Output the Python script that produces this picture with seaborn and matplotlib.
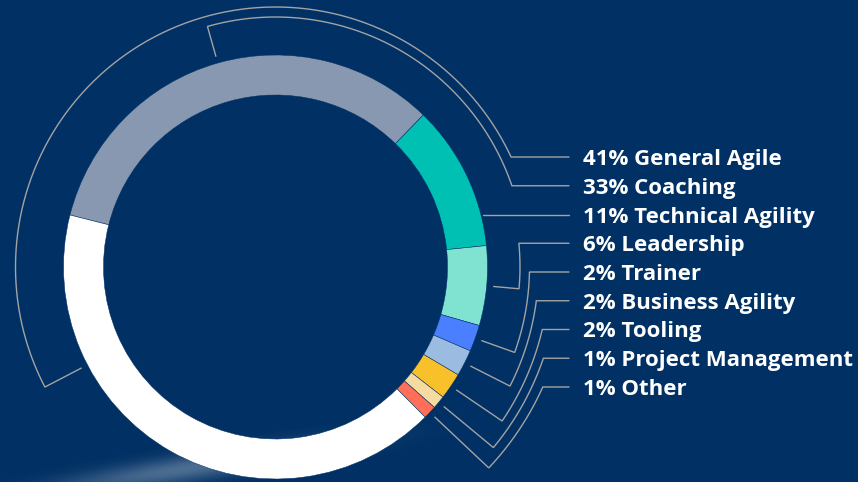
import numpy as np
import matplotlib
matplotlib.use("Agg")
import matplotlib.pyplot as plt
import seaborn as sns

# ring segments, clockwise starting at upper left (gray) ending with the white one
segments = ["Coaching", "Technical Agility", "Leadership", "Trainer", "Business Agility",
            "Tooling", "Project Management", "Other", "General Agile"]
shares = [33, 11, 6, 2, 2, 2, 1, 1, 41]
seg_colors = ["#8798b0", "#00bfb3", "#80e3d2", "#4a80ff", "#9bbbe0",
              "#f8c12a", "#f5dba2", "#ff6e58", "#ffffff"]

# legend on the right, top to bottom
labels = ["General Agile", "Coaching", "Technical Agility", "Leadership", "Trainer",
          "Business Agility", "Tooling", "Project Management", "Other"]
label_pct = [41, 33, 11, 6, 2, 2, 2, 1, 1]

BG = "#013064"
LINE = "#a3a3a3"
W, H = 858, 482

sns.set_style("white")
plt.rcParams["font.family"] = ["Open Sans", "DejaVu Sans"]

fig = plt.figure(figsize=(W / 100, H / 100), dpi=100, facecolor=BG)
ax = fig.add_axes([0, 0, 1, 1])
ax.set_facecolor(BG)

# soft light streak at the bottom left (behind the ring)
gx, gy = np.meshgrid(np.arange(W) + 0.5, np.arange(H) + 0.5)
py = H - gy
ang = np.deg2rad(9)
u = (gx - 190) * np.cos(ang) + (py - 14) * np.sin(ang)
v = -(gx - 190) * np.sin(ang) + (py - 14) * np.cos(ang)
glow = np.exp(-(u / 140) ** 2) * np.exp(-(v / 13) ** 2)
rgba = np.zeros((H, W, 4))
rgba[..., :3] = 1.0
rgba[..., 3] = 0.3 * glow
ax.imshow(rgba, extent=(0, W, 0, H), origin="upper", zorder=0, interpolation="bilinear")

# donut (data coords = pixels, y up)
cx, cy = 275.5, H - 267
R_OUT, WIDTH = 212, 40
start = 165.8
ax.pie(shares, colors=seg_colors, startangle=start, counterclock=False,
       radius=R_OUT, center=(cx, cy),
       wedgeprops=dict(width=WIDTH, edgecolor=BG, linewidth=0.35), frame=True)

frac = np.array(shares) / sum(shares)
cum = np.concatenate([[0], np.cumsum(frac)[:-1]])
mid = {s: start - 360 * (c + f / 2) for s, c, f in zip(segments, cum, frac)}

# leader line layout: arc radius per label (None = straight line)
arc_r = {"General Agile": 260, "Coaching": 250, "Technical Agility": None,
         "Leadership": 244.5, "Trainer": 254, "Business Agility": 263,
         "Tooling": 274, "Project Management": 283, "Other": 293}
tick_ang = dict(mid)
tick_ang["General Agile"] = 207.5

y0, step = 157, 28.75
x_line_end, x_text = 569, 583
R_TICK = 219

for i, (lab, pct) in enumerate(zip(labels, label_pct)):
    ly = H - (y0 + i * step)
    dy = ly - cy
    r = arc_r[lab]
    if r is None:
        xs = [cx + np.sqrt((R_OUT + 2) ** 2 - dy ** 2), x_line_end]
        ys = [ly, ly]
    else:
        a0 = np.deg2rad(tick_ang[lab])
        a1 = np.arcsin(dy / r)
        th = np.linspace(a0, a1, 200)
        xs = [cx + R_TICK * np.cos(a0)] + list(cx + r * np.cos(th)) + [x_line_end]
        ys = [cy + R_TICK * np.sin(a0)] + list(cy + r * np.sin(th)) + [ly]
    ax.plot(xs, ys, color=LINE, lw=1.0, solid_joinstyle="miter", zorder=1)
    ax.text(x_text, ly - 8, f"{pct}% {lab}", color="white", fontsize=16,
            fontweight="bold", va="baseline", ha="left")

ax.set_xlim(0, W)
ax.set_ylim(0, H)
ax.set_aspect("equal")
ax.axis("off")

fig.savefig("out.png", dpi=100, facecolor=BG)
